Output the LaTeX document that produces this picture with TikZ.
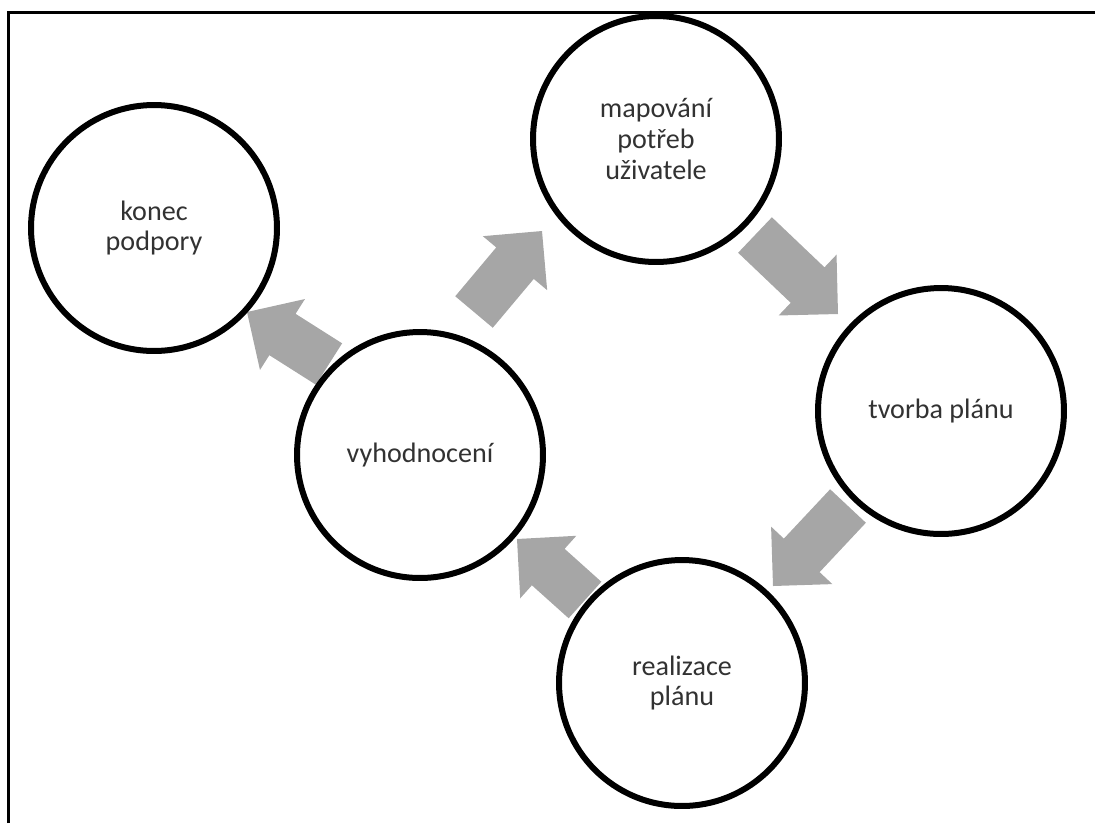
\documentclass[tikz,border=0pt]{standalone}
\usepackage{fontspec}
\setmainfont{Carlito}
\usetikzlibrary{calc}
\definecolor{arrowgray}{RGB}{166,166,166}
\definecolor{textgray}{RGB}{50,50,50}
\newcommand\blockarr[2]{%
  \coordinate (hb) at ($(#2)!0.84cm!(#1)$);
  \fill[blockarrow] ($(#1)!0.49cm!90:(#2)$) -- ($(hb)!0.49cm!90:(#2)$) --
    ($(hb)!0.84cm!90:(#2)$) -- (#2) -- ($(hb)!0.84cm!-90:(#2)$) --
    ($(hb)!0.49cm!-90:(#2)$) -- ($(#1)!0.49cm!-90:(#2)$) -- cycle;}
\begin{document}
\begin{tikzpicture}[x=0.02cm,y=-0.02cm,
  stage/.style={circle, draw=black, line width=0.12cm, fill=white,
    minimum size=4.92cm, inner sep=0pt, align=center,
    font=\fontsize{16}{17.5}\selectfont, text=textgray},
  blockarrow/.style={fill=arrowgray},
  frameline/.style={line width=0.06cm, draw=black}]
\useasboundingbox (0,0) rectangle (1095,823);
\draw[frameline] (8.5,823) -- (8.5,12.5) -- (1095,12.5);
% arrow end points
\coordinate (a1s) at (474,312); \coordinate (a1e) at (542,231);
\coordinate (a2s) at (755,235); \coordinate (a2e) at (838,314);
\coordinate (a3s) at (848,506); \coordinate (a3e) at (773,586);
\coordinate (a4s) at (585,600); \coordinate (a4e) at (517,539);
\coordinate (a5s) at (329,364); \coordinate (a5e) at (247,312);
\blockarr{a1s}{a1e}
\blockarr{a2s}{a2e}
\blockarr{a3s}{a3e}
\blockarr{a4s}{a4e}
\blockarr{a5s}{a5e}
% stages
\node[stage] (konec) at (154,228) {konec\\podpory};
\node[stage] (map) at (656,139) {mapování\\potřeb\\uživatele};
\node[stage] (tvorba) at (941,411) {tvorba plánu};
\node[stage] (real) at (682,683) {realizace\\plánu};
\node[stage] (vyhod) at (420,455) {vyhodnocení};
\end{tikzpicture}
\end{document}
